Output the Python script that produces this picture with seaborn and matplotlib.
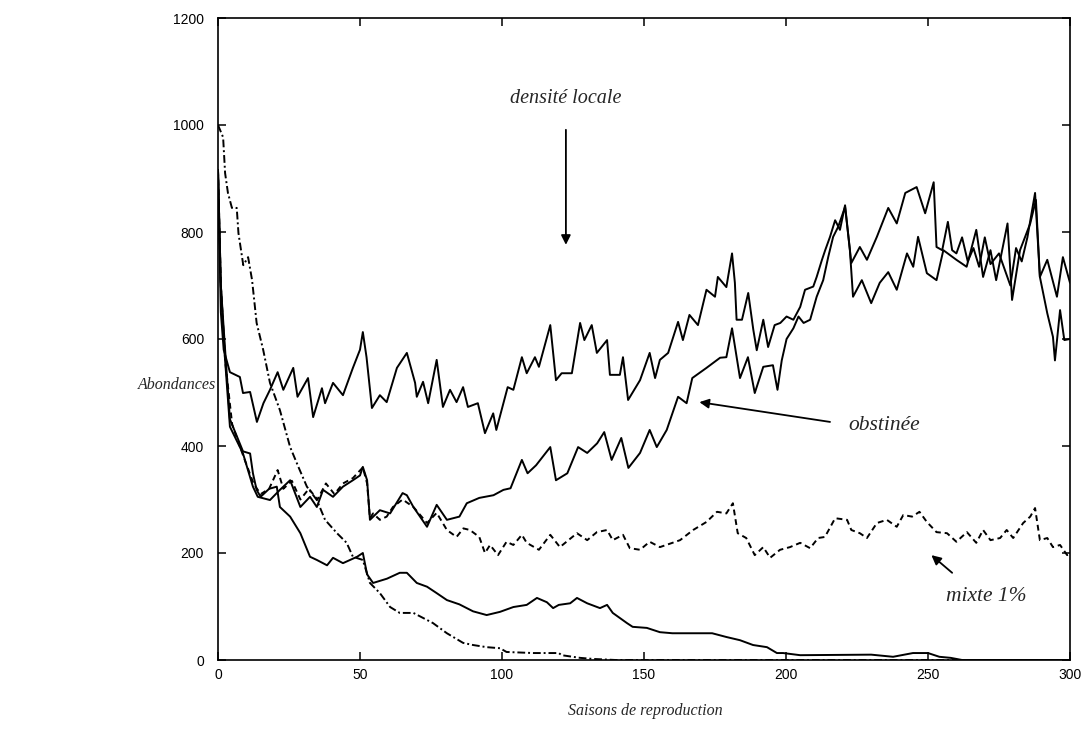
import numpy as np
import pandas as pd
import matplotlib
matplotlib.use("Agg")
import matplotlib.pyplot as plt
import seaborn as sns

# ---------------- data ----------------
x_ticks = [0, 50, 100, 150, 200, 250, 300]
y_ticks = [0, 200, 400, 600, 800, 1000, 1200]

densite_t = [0, 1, 2, 4.2, 7.7, 8.8, 11.3, 13.7, 16, 18.3, 21, 23, 26.5, 28, 31.7, 33.5, 36.6, 37.7,
             40.5, 44, 47.5, 50, 51, 52.3, 54.2, 57, 59.4, 63, 66.5, 69.4, 70, 72.2, 74, 77, 79.2,
             81.7, 84, 86.3, 88, 91.5, 94, 96.9, 98, 102, 104, 107, 108.7, 111.6, 113, 117, 119,
             121, 124.6, 127.5, 129, 131.6, 133.4, 137, 138, 141.5, 142.6, 144.4, 148.6, 152, 153.9,
             155.6, 158.5, 162, 163.7, 166, 169, 172, 175, 176, 179, 181, 182, 182.6, 184.5, 186.7,
             188.5, 189.7, 192, 193.7, 196, 198, 200.2, 202.6, 205, 206.7, 209.6, 210.8, 212.6,
             213.8, 215.5, 217.3, 219, 220.8, 223, 226,
             228.5, 232, 236, 239, 242, 246, 249, 252, 253, 255, 257, 258.5, 260, 262, 264, 266,
             268, 270, 272, 275, 277, 279, 281, 283, 285, 287.7, 289.4, 292, 294, 294.7, 296.5,
             298, 300]
densite_v = [916, 650, 580, 538, 529, 499, 501, 445, 480, 505, 538, 505, 546, 492, 527, 454, 508, 480,
             518, 495, 546, 580, 613, 566, 471, 495, 482, 546, 574, 518, 492, 520, 480, 561, 473,
             505, 482, 510, 473, 480, 424, 461, 430, 510, 505, 566, 536, 566, 548, 626, 523,
             536, 536, 630, 598, 626, 574, 598, 533, 533, 566, 486, 523, 574, 527,
             561, 574, 632, 598, 645, 626, 692, 679, 716, 697, 760, 705, 636, 636, 686,
             617, 579, 636, 585, 626, 630, 642, 636, 660, 692, 698, 716, 747,
             766, 791, 822, 804, 850, 742, 772,
             748, 791, 845, 816, 873, 884, 835, 893, 772, 766, 819, 766, 760, 790, 745, 770,
             735, 790, 740, 760, 730, 700, 770, 745, 790, 873, 716, 648, 604, 560, 654,
             598, 600]

obstinee_t = [0, 1, 2.5, 4.2, 8.8, 12.3, 14, 18.3, 21.8, 25.4, 29, 32.4, 34.8, 37, 40.5, 44, 47.5, 50,
              51, 52.5, 53.5, 57, 60.6, 65, 66.5, 68.8, 73.6, 77, 80.6, 85, 87.6, 92, 97, 100.5, 103,
              107, 109, 112, 117, 119, 123, 126.8, 130, 133.5, 136, 138.6, 142, 144.5, 148.6, 152,
              154.5, 158, 162, 165, 167, 172, 176.8, 179, 181, 183.8, 186.6, 189, 192, 195.4, 197,
              198.5, 200.2, 202.6, 204.4, 206.2, 208.5, 210.8, 213.1, 214.9, 216.6, 218.4, 220.8,
              222.5, 223.6, 226.7, 230, 233, 236, 239,
              242.6, 244.8, 246.5, 249.6, 253, 255.4, 260, 263.6, 267, 269.4, 272, 274, 278, 279.6,
              282.4, 286, 288, 289.4, 292, 295.4, 297.5, 300]
obstinee_v = [916, 700, 560, 436, 386, 324, 305, 299, 318, 336, 286, 305, 286, 318, 305, 324, 336, 345,
              361, 336, 262, 280, 274, 312, 308, 286, 249, 290, 262, 268, 293, 303, 308, 318, 321,
              374, 349, 364, 398, 336, 349, 398, 387, 405, 426, 374, 415, 359, 387, 430,
              398, 430, 492, 480, 527, 546, 565, 566, 620, 527, 566, 499, 548, 551, 505,
              560, 600, 620, 642, 630, 636, 679, 710, 754, 791, 810, 847,
              766, 679, 710, 667, 705, 725, 692,
              760, 735, 791, 723, 710, 766, 748, 735, 804, 716, 766, 710, 816, 673,
              766, 816, 860, 716, 748, 679, 753, 705]

mixte_t = [0, 1, 2.5, 5, 9, 12.5, 15, 18, 21, 23, 26, 29, 32, 35, 38, 41, 44, 47.5, 51, 52.5, 53.5,
           54.6, 57, 59.4, 61.6, 65, 68.8, 73.6, 77, 80.6, 84, 86.4, 88.7, 92, 94, 95.8, 98.6, 101.6,
           104, 107, 108.7, 113, 117, 120.4, 126.4, 130, 133.4, 137, 139, 142.6, 145, 148.6, 152,
           155.6, 160, 162.7, 167.3, 172, 175.7, 179, 181.3, 183, 186, 189, 192, 194.4, 197.9,
           201.4, 205, 208.5, 211.3, 213.7, 217.3, 221.5, 223, 226, 228.5, 232, 235.5, 239, 241.3,
           244.4, 247, 249.6, 253, 256.7, 260, 263.7, 267, 269.4, 272, 275.4, 277.7, 280, 283.5,
           286, 287.7, 289.4, 292, 294, 296.5, 299, 300]
mixte_v = [916, 700, 560, 440, 380, 330, 310, 320, 355, 320, 335, 300, 320, 300, 330, 310, 330, 340,
           360, 330, 265, 274, 262, 268, 286, 300, 286, 256, 275, 243, 230, 246, 243, 230, 200, 215,
           196, 221, 215, 234, 219, 206, 234, 211, 237, 224, 239, 243, 224, 234, 209, 206, 221,
           211, 219, 224, 243, 258, 277, 274, 293, 237, 228, 196, 211, 191, 206,
           211, 219, 209, 228, 230, 265, 262, 243, 237, 228, 256, 262, 249, 271,
           268, 277, 258, 239, 237, 221, 239, 219, 243, 224, 228, 243, 228, 256,
           268, 284, 224, 228, 211, 215, 196, 200]

rapide_t = [0, 1.8, 2.5, 3.5, 4.9, 6.6, 7.2, 8.9, 10.6, 12, 13.6, 15.9, 18.3, 21.8, 25.4, 28.3, 31.3,
            34.8, 37.7, 41.9, 45.3, 47.5, 51, 53.5, 57, 60.6, 64, 68.8, 75.7, 80.6, 86.3, 89.8, 94.6,
            99.3, 101.6, 111, 120, 121, 127.5, 132, 140, 300]
rapide_v = [1000, 977, 910, 873, 845, 845, 798, 738, 753, 710, 630, 580, 518, 467, 398, 361, 324,
            299, 262, 237, 219, 193, 187, 144, 125, 99, 88, 88, 69, 50, 32, 28, 24,
            22, 15, 13, 13, 9, 4, 2, 0, 0]

lente_t = [0, 1, 2.5, 4.2, 8.8, 11.3, 12.3, 13.6, 15, 18, 20.7, 21.8, 25.4, 29, 32.4, 34.8, 38.4,
           40.5, 44, 49, 51, 52.5, 54.6, 59.5, 64, 66.5, 70, 73.6, 77, 80.6, 85, 89.8, 94.6, 99.3,
           104, 108.7, 112.3, 115.8, 118, 120, 124, 126.4, 130, 134.5, 137, 139, 144, 146, 151,
           155.6, 160, 174, 179, 183.8, 188.4, 193.3, 196.8, 199, 205, 230, 237.7, 244.7, 250, 254,
           258, 262, 300]
lente_v = [916, 700, 580, 450, 390, 386, 349, 318, 305, 320, 324, 286, 268, 237, 193, 187, 177,
           191, 181, 193, 200, 160, 144, 152, 163, 163, 144, 137, 125, 112, 104, 91, 84, 90,
           99, 103, 116, 108, 97, 103, 106, 116, 106, 97, 103, 88, 69, 62, 60,
           52, 50, 50, 43, 37, 28, 24, 13, 13, 9, 10, 6, 13, 13, 6,
           4, 0, 0]

# ---------------- figure ----------------
sns.set_style("ticks")
plt.rcParams["font.family"] = ["Liberation Sans", "DejaVu Sans"]
plt.rcParams["xtick.direction"] = "in"
plt.rcParams["ytick.direction"] = "in"

fig = plt.figure(figsize=(10.91, 7.41), dpi=100)
ax = fig.add_axes([218 / 1091, 1 - 660 / 741, (1070 - 218) / 1091, (660 - 18) / 741])

series = [
    (densite_t, densite_v, "-"),
    (obstinee_t, obstinee_v, "-"),
    (mixte_t, mixte_v, (0, (3, 2))),
    (rapide_t, rapide_v, (0, (4, 1.5, 1, 1.5))),
    (lente_t, lente_v, "-"),
]
for t, v, ls in series:
    sns.lineplot(x=t, y=v, ax=ax, color="black", linewidth=1.4, linestyle=ls,
                 estimator=None, sort=False)

ax.set_xlim(0, 300)
ax.set_ylim(0, 1200)
ax.set_xticks(x_ticks)
ax.set_yticks(y_ticks)
ax.set_xticklabels([str(v) for v in x_ticks])
ax.set_yticklabels([str(v) for v in y_ticks])
ax.tick_params(axis="both", which="both", direction="in", length=6, width=1.1,
               top=True, right=True, labelsize=10, colors="black")
ax.tick_params(axis="y", pad=10)
ax.tick_params(axis="x", pad=6)
for sp in ax.spines.values():
    sp.set_visible(True)
    sp.set_linewidth(1.2)
    sp.set_color("black")
ax.set_xlabel("")
ax.set_ylabel("")

serif = ["Liberation Serif", "DejaVu Serif"]
ax.text(-0.048, 0.428, "Abondances", transform=ax.transAxes, ha="center", va="center",
        fontsize=11.5, style="italic", family=serif)
ax.text(0.501, -0.079, "Saisons de reproduction", transform=ax.transAxes, ha="center",
        va="center", fontsize=11.5, style="italic", family=serif)

arrow = dict(arrowstyle="-|>", color="black", lw=1.3, mutation_scale=14, shrinkA=0, shrinkB=0)
ax.text(122.5, 1050, "densité locale", ha="center", va="center", fontsize=14.5,
        style="italic", family=serif)
ax.annotate("", xy=(122.5, 776), xytext=(122.5, 991), arrowprops=arrow)
ax.text(221.8, 439, "obstinée", ha="left", va="center", fontsize=15.5,
        style="italic", family=serif)
ax.annotate("", xy=(169.5, 482), xytext=(215.5, 445), arrowprops=arrow)
ax.text(256.3, 118, "mixte 1%", ha="left", va="center", fontsize=15.5,
        style="italic", family=serif)
ax.annotate("", xy=(251.2, 196), xytext=(258.5, 163), arrowprops=arrow)

fig.savefig("out.png", dpi=100)
